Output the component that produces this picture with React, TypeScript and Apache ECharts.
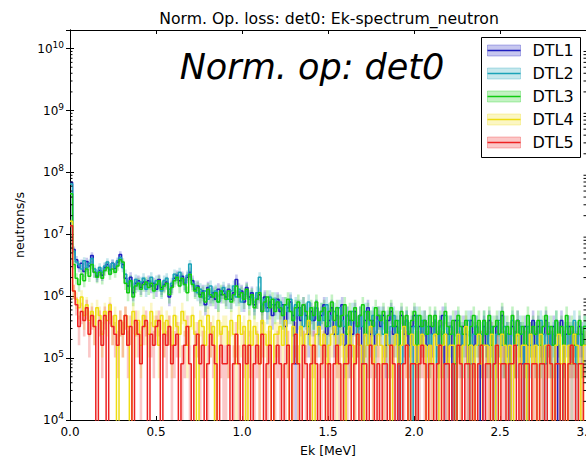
import React, { useEffect, useRef } from "react";
import * as echarts from "echarts";

// ---------- data ----------
const SERIES_NAMES = ["DTL1", "DTL2", "DTL3", "DTL4", "DTL5"];
const LINE_COLORS = ["#1f1fbf", "#1aa3b8", "#11cc11", "#eedd11", "#ee2222"];
const BIN_WIDTH = 0.015; // MeV, 200 bins over 0..3 MeV
const COUNT_WEIGHT = 8.1e4; // neutrons/s carried by one counted event
const X_TICKS = [0, 0.5, 1.0, 1.5, 2.0, 2.5, 3.0];
const Y_MIN = 1e4;
const Y_MAX = 2e10;
const MINOR_MULTIPLIERS = [2, 3, 4, 5, 6, 7, 8, 9];
const MINOR_DECADES = [4, 5, 6, 7, 8, 9, 10];

// counts per bin (value = count * COUNT_WEIGHT), 20 bins per row = 0.3 MeV
const DTL1 = [
  860, 70, 48, 36, 42, 31, 45, 38, 56, 30, 26, 32, 27, 36, 40, 33, 42, 35, 44, 58,
  40, 24, 18, 25, 14, 20, 22, 17, 21, 19, 22, 18, 20, 16, 23, 17, 19, 21, 12, 18,
  24, 27, 22, 26, 20, 25, 30, 22, 16, 18, 13, 15, 9, 17, 12, 14, 11, 16, 13, 15,
  12, 16, 11, 14, 23, 13, 15, 10, 17, 12, 14, 9, 11, 13, 7, 12, 8, 10, 6, 9,
  11, 7, 9, 4, 8, 10, 6, 1, 8, 5, 9, 6, 3, 7, 5, 8, 4, 6, 9, 3,
  5, 8, 3, 6, 4, 9, 2, 6, 5, 3, 7, 4, 6, 1, 5, 8, 3, 5, 2, 6,
  4, 6, 2, 5, 7, 3, 4, 0, 6, 3, 5, 2, 4, 6, 1, 4, 3, 5, 2, 4,
  3, 5, 2, 4, 6, 1, 3, 4, 0, 5, 3, 2, 4, 3, 1, 5, 2, 4, 3, 0,
  4, 2, 5, 3, 1, 4, 3, 6, 2, 3, 0, 4, 2, 5, 3, 1, 4, 2, 3, 5,
  2, 4, 3, 1, 5, 3, 2, 4, 0, 3, 5, 2, 3, 4, 1, 3, 2, 4, 3, 2,
];
const DTL2 = [
  800, 66, 44, 40, 34, 46, 36, 42, 50, 34, 28, 36, 30, 38, 44, 32, 42, 36, 46, 52,
  36, 28, 20, 22, 17, 23, 19, 21, 24, 16, 20, 25, 18, 22, 19, 15, 22, 24, 16, 20,
  28, 24, 30, 23, 19, 27, 41, 20, 18, 14, 16, 12, 15, 11, 18, 13, 15, 10, 14, 17,
  14, 11, 15, 18, 12, 16, 10, 13, 15, 11, 12, 10, 14, 25, 9, 11, 7, 12, 9, 11,
  8, 10, 6, 9, 7, 11, 5, 9, 6, 8, 4, 7, 10, 5, 6, 8, 3, 7, 5, 9,
  4, 6, 7, 3, 8, 5, 4, 6, 2, 7, 5, 3, 6, 4, 7, 2, 5, 6, 3, 5,
  6, 3, 5, 2, 4, 6, 3, 5, 1, 4, 5, 3, 0, 4, 6, 2, 5, 3, 4, 2,
  3, 5, 1, 4, 3, 6, 2, 4, 3, 0, 5, 3, 2, 4, 5, 1, 3, 4, 2, 3,
  5, 3, 2, 4, 0, 3, 5, 2, 4, 3, 1, 5, 3, 2, 4, 3, 0, 4, 2, 3,
  3, 2, 5, 3, 1, 4, 2, 3, 5, 2, 0, 3, 4, 2, 3, 5, 1, 3, 2, 4,
];
const DTL3 = [
  560, 40, 24, 19, 28, 22, 34, 26, 40, 30, 25, 30, 24, 32, 36, 28, 34, 30, 38, 48,
  44, 20, 14, 22, 12, 18, 20, 16, 19, 21, 17, 20, 15, 19, 22, 16, 18, 20, 13, 17,
  22, 25, 18, 24, 19, 14, 28, 19, 15, 17, 12, 14, 10, 16, 13, 12, 14, 10, 15, 13,
  11, 15, 10, 13, 18, 12, 14, 11, 16, 9, 13, 8, 11, 14, 7, 10, 12, 8, 11, 7,
  10, 8, 6, 9, 11, 7, 5, 8, 10, 6, 9, 7, 4, 8, 6, 10, 5, 7, 8, 4,
  7, 10, 5, 8, 4, 6, 9, 3, 7, 5, 8, 4, 6, 9, 3, 7, 5, 4, 8, 6,
  5, 7, 3, 6, 8, 4, 5, 2, 7, 4, 6, 3, 5, 7, 2, 6, 4, 5, 3, 6,
  4, 6, 3, 5, 2, 7, 4, 3, 5, 1, 6, 4, 3, 5, 2, 4, 6, 3, 5, 2,
  5, 3, 6, 2, 4, 5, 3, 7, 2, 4, 3, 6, 2, 5, 3, 4, 2, 6, 3, 4,
  3, 5, 2, 4, 6, 3, 4, 2, 5, 3, 4, 2, 6, 3, 4, 2, 3, 5, 2, 4,
];
const DTL4 = [
  200, 15, 11, 8, 12, 6, 9, 5, 7, 4, 8, 6, 3, 7, 5, 9, 4, 6, 0, 5,
  3, 6, 4, 0, 7, 3, 5, 2, 6, 4, 3, 7, 4, 5, 2, 6, 3, 5, 4, 2,
  6, 4, 3, 7, 5, 2, 4, 6, 3, 0, 5, 4, 2, 6, 3, 4, 0, 5, 3, 4,
  4, 2, 5, 3, 1, 6, 3, 4, 0, 5, 2, 4, 3, 1, 5, 3, 2, 4, 0, 3,
  3, 4, 2, 5, 2, 0, 4, 3, 1, 4, 2, 3, 5, 2, 0, 3, 4, 2, 3, 1,
  2, 3, 4, 1, 2, 3, 0, 2, 4, 2, 1, 3, 2, 0, 3, 2, 4, 1, 2, 3,
  2, 1, 3, 2, 0, 2, 3, 1, 2, 4, 2, 0, 3, 2, 1, 2, 3, 2, 0, 2,
  1, 3, 2, 0, 2, 3, 1, 2, 2, 0, 3, 1, 2, 4, 1, 2, 0, 2, 3, 1,
  2, 2, 1, 3, 0, 2, 1, 3, 2, 1, 2, 0, 2, 3, 1, 2, 2, 0, 3, 1,
  2, 0, 3, 1, 2, 2, 1, 0, 2, 3, 1, 2, 0, 2, 1, 3, 2, 1, 0, 2,
];
const DTL5 = [
  170, 15, 9, 4, 7, 5, 8, 3, 6, 4, 0, 5, 2, 6, 0, 7, 4, 3, 2, 5,
  3, 6, 2, 4, 0, 5, 3, 1, 4, 5, 0, 3, 2, 4, 5, 0, 3, 2, 4, 1,
  2, 3, 0, 1, 2, 4, 1, 0, 2, 3, 1, 2, 0, 1, 3, 2, 1, 0, 2, 1,
  1, 2, 0, 1, 3, 1, 0, 2, 1, 2, 0, 1, 2, 1, 3, 0, 1, 2, 0, 1,
  2, 1, 0, 1, 2, 0, 1, 3, 1, 0, 2, 1, 0, 1, 2, 1, 0, 1, 2, 0,
  1, 0, 1, 2, 1, 0, 1, 1, 2, 0, 1, 3, 0, 1, 1, 0, 2, 1, 0, 1,
  0, 1, 1, 0, 2, 1, 0, 1, 0, 1, 2, 0, 1, 1, 0, 1, 2, 1, 0, 1,
  1, 0, 1, 2, 0, 1, 1, 0, 1, 0, 2, 1, 0, 1, 1, 0, 1, 0, 1, 2,
  0, 1, 1, 0, 1, 2, 0, 1, 1, 0, 1, 1, 2, 0, 1, 0, 1, 1, 0, 1,
  1, 0, 1, 1, 0, 2, 1, 0, 1, 1, 0, 1, 0, 1, 2, 1, 0, 1, 1, 0,
];
const SERIES_COUNTS = [DTL1, DTL2, DTL3, DTL4, DTL5];

const TITLE = "Norm. Op. loss: det0: Ek-spectrum_neutron";
const ANNOTATION = "Norm. op: det0";
const X_NAME = "Ek [MeV]";
const Y_NAME = "neutrons/s";

// ---------- helpers ----------
const FONT = "DejaVu Sans";
const clampY = (v: number) => Math.min(Math.max(v, Y_MIN), Y_MAX);
const lineValue = (n: number) => (n > 0 ? n * COUNT_WEIGHT : Y_MIN / 10);

function hexToRgba(hex: string, a: number) {
  const h = hex.replace("#", "");
  const r = parseInt(h.slice(0, 2), 16);
  const g = parseInt(h.slice(2, 4), 16);
  const b = parseInt(h.slice(4, 6), 16);
  return `rgba(${r},${g},${b},${a})`;
}

function bandSeries(counts: number[], color: string, name: string) {
  return {
    type: "custom",
    name: name + " band",
    data: [[0, 1e5]],
    encode: { x: 0, y: 1 },
    silent: true,
    z: 2,
    renderItem: (_params: any, api: any) => {
      const upper: number[][] = [];
      const lower: number[][] = [];
      counts.forEach((n, i) => {
        const x0 = i * BIN_WIDTH;
        const x1 = (i + 1) * BIN_WIDTH;
        const s = Math.sqrt(n);
        const hi = clampY((n + s) * COUNT_WEIGHT);
        const lo = clampY((n - s) * COUNT_WEIGHT);
        upper.push(api.coord([x0, hi]), api.coord([x1, hi]));
        lower.push(api.coord([x0, lo]), api.coord([x1, lo]));
      });
      return {
        type: "polygon",
        shape: { points: upper.concat(lower.reverse()) },
        style: { fill: hexToRgba(color, 0.25) },
      };
    },
  };
}

function lineSeries(counts: number[], color: string, name: string) {
  const data = counts.map((n, i) => [i * BIN_WIDTH, lineValue(n)]);
  data.push([counts.length * BIN_WIDTH, lineValue(counts[counts.length - 1])]);
  return {
    type: "line",
    name,
    step: "end",
    symbol: "none",
    showSymbol: false,
    clip: true,
    silent: true,
    z: 2,
    lineStyle: { color, width: 1.5 },
    data,
  };
}

export default function App() {
  const ref = useRef<HTMLDivElement>(null);

  useEffect(() => {
    if (!ref.current) return;
    const chart = echarts.init(ref.current, undefined, { renderer: "svg" });

    const minorValues: number[][] = [];
    MINOR_DECADES.forEach((d) =>
      MINOR_MULTIPLIERS.forEach((m) => {
        const v = m * Math.pow(10, d);
        if (v > Y_MIN && v < Y_MAX) minorValues.push([0, v]);
      })
    );

    const series: any[] = [];
    SERIES_COUNTS.forEach((c, i) => {
      series.push(bandSeries(c, LINE_COLORS[i], SERIES_NAMES[i]));
      series.push(lineSeries(c, LINE_COLORS[i], SERIES_NAMES[i]));
    });
    series.push({
      type: "custom",
      name: "minor ticks",
      data: minorValues,
      encode: { x: 0, y: 1 },
      silent: true,
      z: 5,
      renderItem: (_p: any, api: any) => {
        const v = api.value(1);
        const l = api.coord([X_TICKS[0], v]);
        const r = api.coord([X_TICKS[X_TICKS.length - 1], v]);
        return {
          type: "group",
          children: [
            { type: "line", shape: { x1: l[0], y1: l[1], x2: l[0] + 2.5, y2: l[1] }, style: { stroke: "#000", lineWidth: 1 } },
            { type: "line", shape: { x1: r[0] - 2.5, y1: r[1], x2: r[0], y2: r[1] }, style: { stroke: "#000", lineWidth: 1 } },
          ],
        };
      },
    });

    const legendGraphics: any[] = [];
    const lx = 481.5, ly = 37.5, rowH = 23;
    legendGraphics.push({
      type: "rect",
      shape: { x: lx, y: ly, width: 99, height: 120 },
      style: { fill: "#fff", stroke: "#000", lineWidth: 1 },
      z: 100,
    });
    SERIES_NAMES.forEach((name, i) => {
      const cy = ly + 13 + i * rowH;
      legendGraphics.push({
        type: "rect",
        shape: { x: lx + 6, y: cy - 5.5, width: 33, height: 11 },
        style: { fill: hexToRgba(LINE_COLORS[i], 0.25), stroke: hexToRgba(LINE_COLORS[i], 0.3), lineWidth: 1 },
        z: 101,
      });
      legendGraphics.push({
        type: "line",
        shape: { x1: lx + 6, y1: cy, x2: lx + 39, y2: cy },
        style: { stroke: LINE_COLORS[i], lineWidth: 1.5 },
        z: 102,
      });
      legendGraphics.push({
        type: "text",
        x: lx + 51,
        y: cy,
        style: { text: name, font: `16px '${FONT}'`, fill: "#000", textVerticalAlign: "middle", textAlign: "left" },
        z: 102,
      });
    });

    const axisCommon = {
      min: 0,
      max: 3,
      interval: 0.5,
      axisLine: { show: true, lineStyle: { color: "#000", width: 1 } },
      axisTick: { show: true, inside: true, length: 4, lineStyle: { color: "#000" } },
      splitLine: { show: false },
    };
    const yCommon = {
      type: "log",
      logBase: 10,
      min: Y_MIN,
      max: Y_MAX,
      axisLine: { show: true, lineStyle: { color: "#000", width: 1 } },
      axisTick: { show: true, inside: true, length: 4, lineStyle: { color: "#000" } },
      splitLine: { show: false },
      minorTick: { show: false },
    };

    chart.setOption({
      animation: false,
      backgroundColor: "#fff",
      grid: { left: 70, top: 30, right: 0, bottom: 39, containLabel: false, outerBoundsMode: "none" },
      xAxis: [
        {
          type: "value",
          position: "bottom",
          ...axisCommon,
          name: X_NAME,
          nameLocation: "middle",
          nameGap: 24,
          nameTextStyle: { fontFamily: FONT, fontSize: 12.5, color: "#000" },
          axisLabel: {
            fontFamily: FONT,
            fontSize: 12,
            color: "#000",
            margin: 6,
            formatter: (v: number) => v.toFixed(1),
          },
        },
        { type: "value", position: "top", ...axisCommon, axisLabel: { show: false } },
      ],
      yAxis: [
        {
          ...yCommon,
          position: "left",
          name: Y_NAME,
          nameLocation: "middle",
          nameGap: 38,
          nameTextStyle: { fontFamily: FONT, fontSize: 12.5, color: "#000" },
          axisLabel: {
            margin: 6,
            formatter: (v: number) => {
              const e = Math.log10(v);
              const r = Math.round(e);
              if (Math.abs(e - r) > 1e-6) return "";
              return `{b|10}{s|${r}}`;
            },
            rich: {
              b: { fontFamily: FONT, fontSize: 12, color: "#000" },
              s: { fontFamily: FONT, fontSize: 9, color: "#000", padding: [0, 0, 8, 0] },
            },
          },
        },
        { ...yCommon, position: "right", axisLabel: { show: false } },
      ],
      series,
      graphic: [
        {
          type: "text",
          x: 329,
          y: 18,
          style: { text: TITLE, font: `15.7px '${FONT}'`, fill: "#000", textAlign: "center", textVerticalAlign: "middle" },
          z: 100,
        },
        {
          type: "text",
          x: 312,
          y: 67,
          style: { text: ANNOTATION, font: `italic 35px '${FONT}'`, fill: "#000", textAlign: "center", textVerticalAlign: "middle" },
          z: 100,
        },
        ...legendGraphics,
      ],
    });

    return () => chart.dispose();
  }, []);

  return (
    <div
      ref={ref}
      style={{ position: "fixed", left: 0, top: 0, width: 586, height: 459, background: "#fff" }}
    />
  );
}
